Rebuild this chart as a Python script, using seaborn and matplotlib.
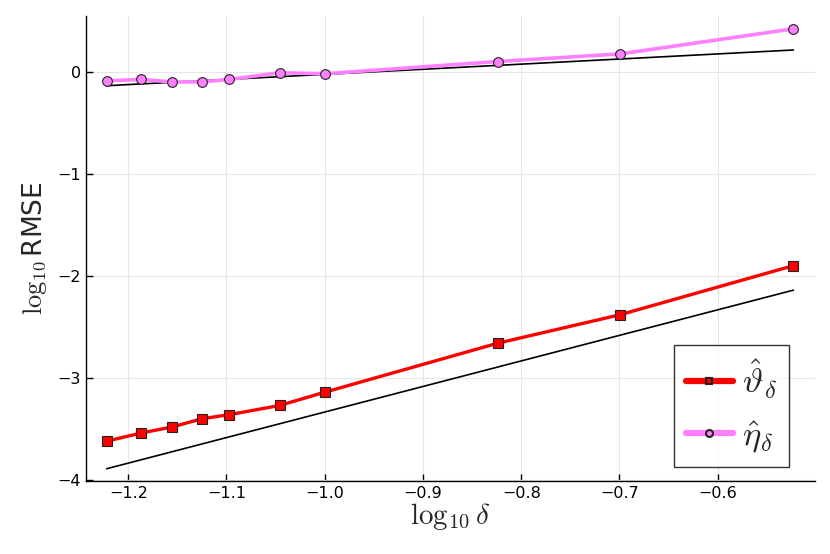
import numpy as np
import pandas as pd
import seaborn as sns
import matplotlib.pyplot as plt

# x positions: log10 of delta
log_delta = [-1.222, -1.187, -1.155, -1.125, -1.097, -1.046, -1.0, -0.824, -0.699, -0.523]
rmse_theta = [-3.62, -3.54, -3.48, -3.40, -3.36, -3.27, -3.14, -2.66, -2.38, -1.90]
rmse_eta = [-0.09, -0.075, -0.10, -0.10, -0.075, -0.01, -0.02, 0.10, 0.175, 0.42]

# reference slope lines (end points)
ref_x = [-1.222, -0.523]
ref_low = [-3.89, -2.14]
ref_high = [-0.137, 0.213]

sns.set_theme(style="ticks")
plt.rcParams['font.family'] = ['DejaVu Sans']
plt.rcParams['mathtext.fontset'] = 'cm'

fig = plt.figure(figsize=(8.3, 5.54), dpi=100)
ax = fig.add_axes([86 / 830, 1 - 481 / 554, (815 - 86) / 830, (481 - 16) / 554])

sns.lineplot(x=ref_x, y=ref_low, color="black", linewidth=1.2, ax=ax)
sns.lineplot(x=ref_x, y=ref_high, color="black", linewidth=1.2, ax=ax)

sns.lineplot(x=log_delta, y=rmse_theta, color="#ff0000", linewidth=2.4, marker="s",
             markersize=7.5, markerfacecolor="#ff0000", markeredgecolor="#222222",
             markeredgewidth=0.8, label=r"$\hat{\vartheta}_\delta$", ax=ax)
sns.lineplot(x=log_delta, y=rmse_eta, color="#ff80ff", linewidth=2.6, marker="o",
             markersize=7, markerfacecolor="#ff80ff", markeredgecolor="#222222",
             markeredgewidth=0.8, label=r"$\hat{\eta}_\delta$", ax=ax)

ax.set_xlim(-1.243, -0.501)
ax.set_ylim(-4.01, 0.546)
ax.set_xticks([-1.2, -1.1, -1.0, -0.9, -0.8, -0.7, -0.6])
ax.set_yticks([-4, -3, -2, -1, 0])
ax.set_xticklabels(["\u22121.2", "\u22121.1", "\u22121.0", "\u22120.9", "\u22120.8", "\u22120.7", "\u22120.6"])
ax.set_yticklabels(["\u22124", "\u22123", "\u22122", "\u22121", "0"])
ax.grid(True, color="#e6e6e6", linewidth=0.8)
ax.set_axisbelow(True)
ax.tick_params(direction="in", length=5, width=1, labelsize=11.5, colors="black")
for s in ["top", "right"]:
    ax.spines[s].set_visible(False)
for s in ["left", "bottom"]:
    ax.spines[s].set_color("black")
    ax.spines[s].set_linewidth(1.0)

ax.set_xlabel(r"$\log_{10}\delta$", fontsize=21, labelpad=0)
ax.set_ylabel(r"$\log_{10}$RMSE", fontsize=19, labelpad=6)

leg = ax.legend(loc="lower right", fontsize=25, frameon=True, fancybox=False,
                edgecolor="black", handlelength=1.35, borderpad=0.35,
                labelspacing=0.5, handletextpad=0.25, borderaxespad=0,
                bbox_to_anchor=(0.964, 0.030))
leg.get_frame().set_linewidth(1.0)
for h in leg.legend_handles:
    h.set_markersize(5)
    h.set_markeredgewidth(1.5)
    h.set_linewidth(4.5)

fig.savefig("out.png", dpi=100)
